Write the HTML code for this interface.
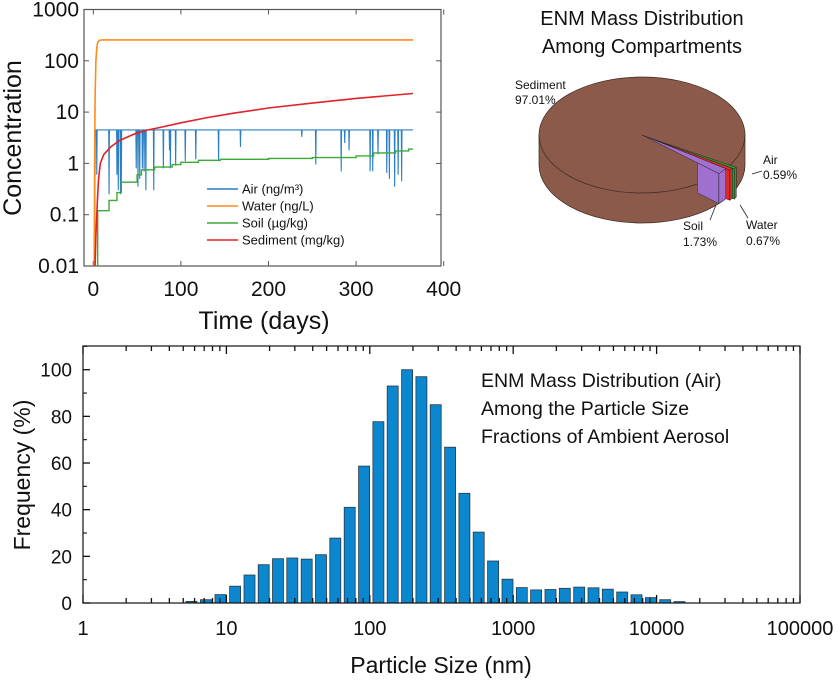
<!DOCTYPE html>
<html><head><meta charset="utf-8">
<style>
html,body{margin:0;padding:0;background:#fff;}
svg{display:block;font-family:"Liberation Sans",Arial,sans-serif;}
</style></head>
<body>
<svg id="s" width="840" height="680" viewBox="0 0 840 680" xmlns="http://www.w3.org/2000/svg">
<g id="top"></g>
<g id="pie"></g>
<g id="bot"></g>
</svg>
<script>
// ---- Concentration chart data ----
const xTicks=[0,100,200,300,400];
const yTicks=[0.01,0.1,1,10,100,1000];
const yTickLabels=["0.01","0.1","1","10","100","1000"];
const waterDays=[1,1.5,2,3,4,5,7,10,365];
const waterVals=[0.01,1,20,100,180,230,250,255,255];
const sedDays=[2,3,4,5,6,8,12,20,30,46,60,76,100,130,160,200,250,300,365];
const sedVals=[0.01,0.04,0.1,0.25,0.5,1,1.5,2.1,2.8,3.7,4.4,5,6.2,7.8,9.5,12,15,18.5,23];
const soilDays=[3,5,18,27,32,50,55,70,90,100,120,145,200,250,300,320,345,360,365];
const soilVals=[0.01,0.12,0.19,0.27,0.43,0.6,0.75,0.85,0.95,1.05,1.15,1.2,1.25,1.3,1.4,1.6,1.75,1.9,1.9];
const airBase=4.5;
const airSpikeDays=[2,4,18,27,28.5,31,32,49,51,53,56,58,60,69,80,87,88,94,105,117,143,168,238,254,283,287,292,316,319,325,335,338,344,348,352];
const airSpikeMins=[0.55,0.6,0.25,0.6,0.3,0.25,0.35,0.8,0.35,0.5,0.8,0.7,0.3,0.3,0.8,1.8,0.8,0.9,1.1,1.2,1.1,2.1,3.3,0.95,0.7,2.5,1.8,0.7,0.7,1.5,0.65,0.5,0.35,0.6,0.45];
// ---- Pie data ----
const pieLabels=["Sediment","Air","Water","Soil"];
const pieVals=[97.01,0.59,0.67,1.73];
// ---- Size distribution data ----
const sizeBins=[5.7,7.2,9.1,11.5,14.5,18.2,22.9,28.8,36.3,45.7,57.5,72.4,91.2,114.8,144.5,182,229,288,363,457,575,724,912,1148,1445,1820,2291,2884,3631,4571,5754,7244,9120,11482,14454];
const freqVals=[0.7,1.4,3.6,7.2,12,16.4,19,19.3,18.8,20.7,27.8,41,58.7,77.7,93,100,97,85,66.8,47,30.4,18,10.2,6.6,5.6,5.8,6.3,6.8,6.5,5.9,4.7,3.5,2.3,1.4,0.6];
const botXTicks=[1,10,100,1000,10000,100000];
const botXLabels=["1","10","100","1000","10000","100000"];
const botYTicks=[0,20,40,60,80,100];

const NS="http://www.w3.org/2000/svg";
function mk(parent,tag,attrs,text){const e=document.createElementNS(NS,tag);for(const k in attrs)e.setAttribute(k,attrs[k]);if(text!==undefined)e.textContent=text;parent.appendChild(e);return e;}

// ===== Top chart =====
const T=document.getElementById('top');
const L=84,R=441,TP=9.5,BT=266;
const xs=d=>93.3+d*0.876;
const ys=v=>BT-(Math.log10(v)+2)*51.3;
mk(mk(T,'defs',{}),'clipPath',{id:'cp'});
const cp=document.getElementById('cp');mk(cp,'rect',{x:L,y:TP,width:R-L,height:BT-TP});
const frame=mk(T,'rect',{x:L,y:TP,width:R-L,height:BT-TP,fill:'none',stroke:'#555','stroke-width':1.2});


xTicks.forEach(t=>{const x=xs(t);
 mk(T,'line',{x1:x,y1:BT,x2:x,y2:BT-5,stroke:'#555'});mk(T,'line',{x1:x,y1:TP,x2:x,y2:TP+5,stroke:'#555'});
 const tl=mk(T,'text',{x:x,y:296,'font-size':21,'text-anchor':'middle',fill:'#111'},String(t));
 
 });
yTicks.forEach((t,i)=>{const y=ys(t);
 mk(T,'line',{x1:L,y1:y,x2:L+5,y2:y,stroke:'#555'});mk(T,'line',{x1:R,y1:y,x2:R-5,y2:y,stroke:'#555'});
 const tl=mk(T,'text',{x:79,y:y+7,'font-size':21,'text-anchor':'end',fill:'#111'},yTickLabels[i]);
 
 });
let t1=mk(T,'text',{x:264,y:329,'font-size':25,'text-anchor':'middle',fill:'#111'},'Time (days)');

let t2=mk(T,'text',{x:0,y:0,'font-size':25,'text-anchor':'middle',fill:'#111',transform:'translate(21,138) rotate(-90)'},'Concentration');

const G=mk(T,'g',{'clip-path':'url(#cp)'});
function pathOf(ds,vs){return ds.map((d,i)=>(i?'L':'M')+xs(d).toFixed(1)+','+ys(vs[i]).toFixed(1)).join('');}
function stepOf(ds,vs){let p='M'+xs(ds[0])+','+ys(vs[0]);for(let i=1;i<ds.length;i++){p+='L'+xs(ds[i])+','+ys(vs[i-1])+'L'+xs(ds[i])+','+ys(vs[i]);}return p;}
let ap='M'+xs(1.5)+','+ys(0.01)+'L'+xs(2)+','+ys(airBase);
airSpikeDays.forEach((d,i)=>{ap+='L'+xs(d-0.4)+','+ys(airBase)+'L'+xs(d)+','+ys(airSpikeMins[i])+'L'+xs(d+0.4)+','+ys(airBase);});
ap+='L'+xs(365)+','+ys(airBase);
let pa=mk(G,'path',{d:ap,fill:'none',stroke:'#2c7fc2','stroke-width':1.1});

let ps=mk(G,'path',{d:stepOf(soilDays,soilVals),fill:'none',stroke:'#3aaa35','stroke-width':1.4});

let pw=mk(G,'path',{d:pathOf(waterDays,waterVals),fill:'none',stroke:'#ff8c1a','stroke-width':1.6});

let pd=mk(G,'path',{d:pathOf(sedDays,sedVals),fill:'none',stroke:'#e0222a','stroke-width':1.6});

const legItems=[['Air (ng/m³)','#2c7fc2'],['Water (ng/L)','#ff8c1a'],['Soil (µg/kg)','#3aaa35'],['Sediment (mg/kg)','#e0222a']];
legItems.forEach((it,i)=>{const y=189+i*17;
 const ln=mk(T,'line',{x1:207,y1:y,x2:238,y2:y,stroke:it[1],'stroke-width':1.6});
 
 const tx=mk(T,'text',{x:242,y:y+4.5,'font-size':13,fill:'#111'},it[0]);
 });

// ===== Pie =====
const P=document.getElementById('pie');
let pt1=mk(P,'text',{x:642,y:25,'font-size':20,'text-anchor':'middle',fill:'#111'},'ENM Mass Distribution');

let pt2=mk(P,'text',{x:642,y:53,'font-size':20,'text-anchor':'middle',fill:'#111'},'Among Compartments');

const cx=642,cy=135,rx=103,ry=58,dep=30;
const pcol=['#8b5a4a','#2e9a2e','#dd2a2a','#a070d0'];
let side=mk(P,'path',{d:`M${cx-rx},${cy} L${cx-rx},${cy+dep} A${rx},${ry} 0 0 0 ${cx+rx},${cy+dep} L${cx+rx},${cy} Z`,fill:'#8b5a4a',stroke:'#3a2a22','stroke-width':0.7});

let topE=mk(P,'ellipse',{cx:cx,cy:cy,rx:rx,ry:ry,fill:'#8b5a4a',stroke:'#3a2a22','stroke-width':0.7});

const total=pieVals.reduce((a,b)=>a+b,0);
let ang=31*Math.PI/180;
const offs=[0,6,4,0];
for(let i=1;i<pieVals.length;i++){
 const span=pieVals[i]/total*2*Math.PI;
 const a0=ang,a1=ang+span;ang=a1;
 const ox=cx+offs[i],oy=cy+offs[i]*0.4;
 const p0=[ox+rx*Math.cos(a0),oy+ry*Math.sin(a0)],p1=[ox+rx*Math.cos(a1),oy+ry*Math.sin(a1)];
 const k=0.72;const q1=[ox+k*rx*Math.cos(a1),oy+k*ry*Math.sin(a1)];
 const g=mk(P,'g',{});
 mk(g,'path',{d:`M${p0[0]},${p0[1]} L${p0[0]},${p0[1]+dep} L${p1[0]},${p1[1]+dep} L${p1[0]},${p1[1]} Z`,fill:pcol[i],stroke:'#222','stroke-width':0.5});
 mk(g,'path',{d:`M${ox},${oy} L${p0[0]},${p0[1]} L${p1[0]},${p1[1]} Z`,fill:pcol[i],stroke:'#222','stroke-width':0.5});
 mk(g,'path',{d:`M${q1[0]},${q1[1]} L${q1[0]},${q1[1]+dep} L${p1[0]},${p1[1]+dep} L${p1[0]},${p1[1]} Z`,fill:pcol[i],stroke:'#222','stroke-width':0.5});
 
 
}
function lbl(x,y,t,name){const e=mk(P,'text',{x:x,y:y,'font-size':12,fill:'#111'},t);}
lbl(515,89,'Sediment','pie-label-sediment');lbl(515,104,pieVals[0].toFixed(2)+'%','pie-value-sediment');
lbl(763,164,'Air','pie-label-air');lbl(763,179,pieVals[1].toFixed(2)+'%','pie-value-air');
lbl(683,230,'Soil','pie-label-soil');lbl(683,246,pieVals[3].toFixed(2)+'%','pie-value-soil');
lbl(746,229,'Water','pie-label-water');lbl(746,245,pieVals[2].toFixed(2)+'%','pie-value-water');
mk(P,'line',{x1:762,y1:171,x2:752,y2:174,stroke:'#222','stroke-width':0.8});
mk(P,'line',{x1:710,y1:220,x2:716,y2:205,stroke:'#222','stroke-width':0.8});
mk(P,'line',{x1:748,y1:218,x2:740,y2:205,stroke:'#222','stroke-width':0.8});

// ===== Bottom chart =====
const B=document.getElementById('bot');
const bl=83,br=800,bt=346,bb=603;
const bx=v=>bl+143.4*Math.log10(v);
const by=v=>bb-v*2.333;
sizeBins.forEach((s,i)=>{const x=bx(s);
 const r=mk(B,'rect',{x:(x-5.5).toFixed(1),y:by(freqVals[i]).toFixed(1),width:11,height:(bb-by(freqVals[i])).toFixed(1),fill:'#0a87cf',stroke:'#2b3a44','stroke-width':0.8});
 });
const bf=mk(B,'rect',{x:bl,y:bt,width:br-bl,height:bb-bt,fill:'none',stroke:'#111','stroke-width':1.2});

botXTicks.forEach((t,i)=>{const x=bx(t);
 mk(B,'line',{x1:x,y1:bb,x2:x,y2:bb-8,stroke:'#111','stroke-width':1.3});mk(B,'line',{x1:x,y1:bt,x2:x,y2:bt+8,stroke:'#111','stroke-width':1.3});
 if(i<botXTicks.length-1){for(let m=2;m<10;m++){const xm=bx(t*m);
  mk(B,'line',{x1:xm,y1:bb,x2:xm,y2:bb-5,stroke:'#111','stroke-width':1.3});mk(B,'line',{x1:xm,y1:bt,x2:xm,y2:bt+5,stroke:'#111','stroke-width':1.3});}}
 const tl=mk(B,'text',{x:x,y:635,'font-size':20,'text-anchor':'middle',fill:'#111'},botXLabels[i]);
 });
botYTicks.forEach(t=>{const y=by(t);
 mk(B,'line',{x1:bl,y1:y,x2:bl+7,y2:y,stroke:'#111','stroke-width':1.3});
 mk(B,'line',{x1:bl,y1:by(t+10),x2:bl+4,y2:by(t+10),stroke:'#111','stroke-width':1.1});
 const tl=mk(B,'text',{x:72,y:y+7,'font-size':19,'text-anchor':'end',fill:'#111'},String(t));
 });
let bxT=mk(B,'text',{x:441,y:673,'font-size':23,'text-anchor':'middle',fill:'#111'},'Particle Size (nm)');

let byT=mk(B,'text',{x:0,y:0,'font-size':23,'text-anchor':'middle',fill:'#111',transform:'translate(30,475) rotate(-90)'},'Frequency (%)');

['ENM Mass Distribution (Air)','Among the Particle Size','Fractions of Ambient Aerosol'].forEach((s,i)=>{
 const e=mk(B,'text',{x:481,y:387+i*28,'font-size':19.5,fill:'#111'},s);
 });
</script>
</body></html>
